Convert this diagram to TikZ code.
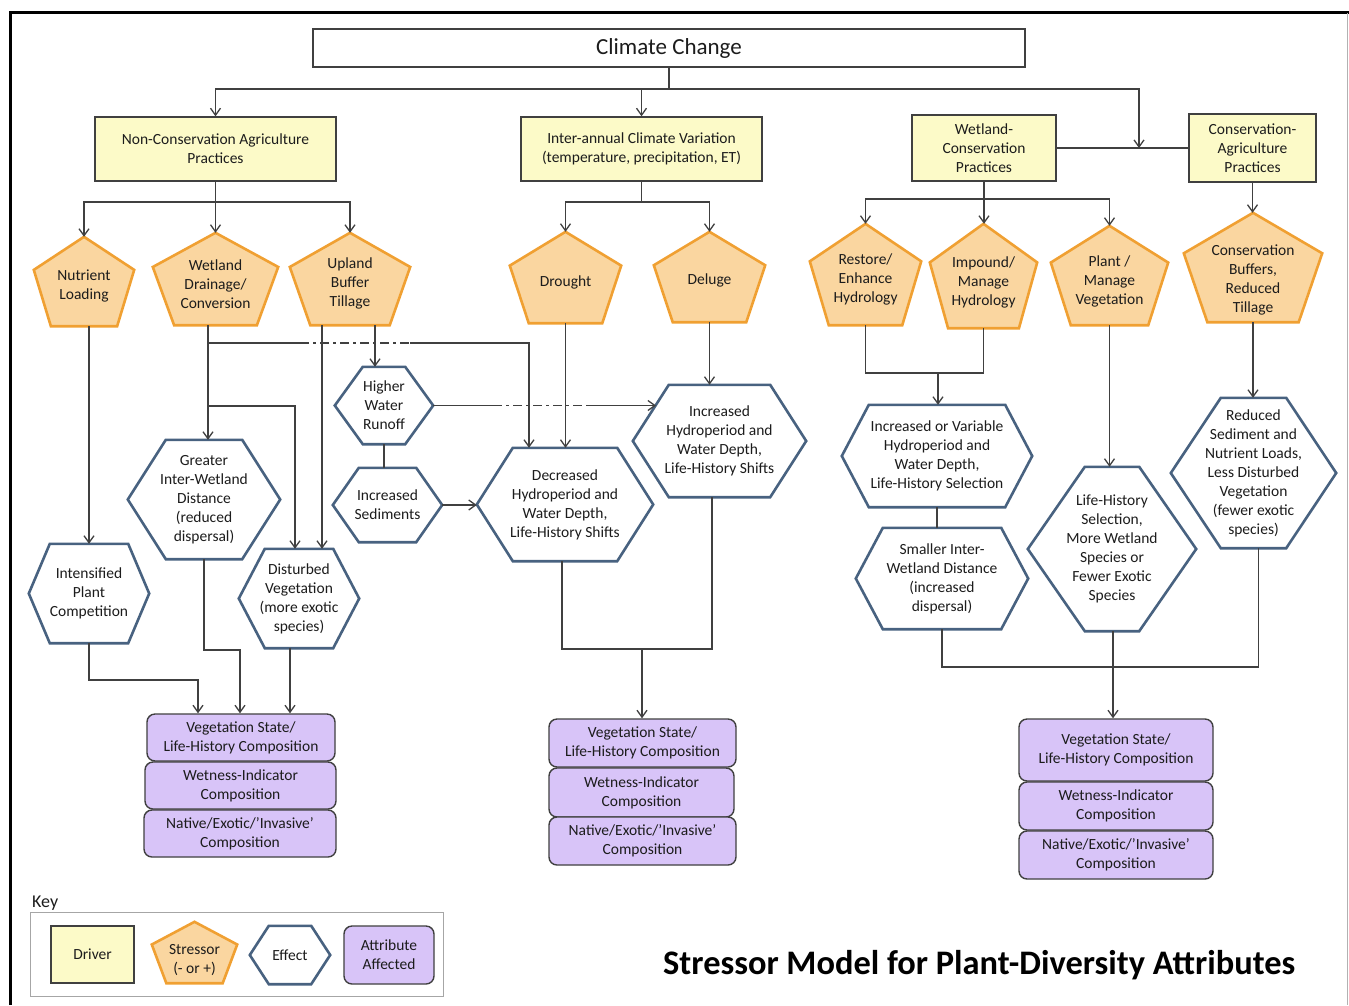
\documentclass[tikz,border=0pt]{standalone}
\usepackage{fontspec}
\setmainfont{Carlito}
\usetikzlibrary{calc,arrows.meta,backgrounds}
\definecolor{drvfill}{RGB}{252,250,200}
\definecolor{edgec}{RGB}{64,64,64}
\definecolor{pfill}{RGB}{250,214,160}
\definecolor{pedge}{RGB}{240,160,50}
\definecolor{hedge}{RGB}{72,98,128}
\definecolor{afill}{RGB}{216,196,248}
\definecolor{txtc}{RGB}{28,28,28}

\newcommand\pentshape[2]{%
  \coordinate (#1-t) at ($(#1.north)+(0,-#2)$);
  \coordinate (#1-b) at ($(#1.south)+(0,-#2)$);
  \begin{pgfonlayer}{background}
  \filldraw[pentst] (#1-t) -- ($(#1.north west)!0.37!(#1.south west)+(0,-#2)$)
     -- ($(#1.south west)!0.17!(#1.south east)+(0,-#2)$)
     -- ($(#1.south east)!0.17!(#1.south west)+(0,-#2)$)
     -- ($(#1.north east)!0.37!(#1.south east)+(0,-#2)$) -- cycle;
  \end{pgfonlayer}}
\newcommand\hexshape[2]{%
  \begin{pgfonlayer}{background}
  \filldraw[hexst] (#1.west) -- ($(#1.north west)+(#2,0)$) -- ($(#1.north east)+(-#2,0)$)
     -- (#1.east) -- ($(#1.south east)+(-#2,0)$) -- ($(#1.south west)+(#2,0)$) -- cycle;
  \end{pgfonlayer}}

\begin{document}
\begin{tikzpicture}[x=1pt,y=-1pt,
  every node/.style={font=\fontsize{15.5}{19}\selectfont, text=txtc, align=center, inner sep=0pt},
  driver/.style 2 args={draw=edgec, line width=1.4pt, fill=drvfill, minimum width=#1pt, minimum height=#2pt},
  stressor/.style 2 args={minimum width=#1pt, minimum height=#2pt},
  effect/.style 2 args={minimum width=#1pt, minimum height=#2pt},
  attr/.style 2 args={draw=edgec, line width=1.4pt, fill=afill, rounded corners=8pt, minimum width=#1pt, minimum height=#2pt},
  pentst/.style={draw=pedge, fill=pfill, line width=2.6pt},
  hexst/.style={draw=hedge, fill=white, line width=2.6pt},
  ln/.style={draw=edgec, line width=1.3pt},
  dd/.style={ln, dash pattern=on 9pt off 4pt on 3pt off 4pt},
  arr/.style={ln, -{Straight Barb[length=7pt,width=10pt]}}]

\useasboundingbox (0,0) rectangle (1349,1005);
\begin{pgfonlayer}{background}
\fill[white] (0,0) rectangle (1349,1005);
\end{pgfonlayer}

% frame
\draw[line width=3pt, black] (10,1005) -- (10,12) -- (1349,12);
\draw[gray!60, line width=1pt] (1347,13) -- (1347,1005);

% drivers
\node[driver={712}{38}, fill=white, font=\fontsize{23}{28}\selectfont] (cc) at (669,48) {Climate Change};
\node[driver={241}{64}] (nca) at (215.5,149) {Non-Conservation Agriculture\\Practices};
\node[driver={241}{64}] (iac) at (641.5,149) {Inter-annual Climate Variation\\(temperature, precipitation, ET)};
\node[driver={144}{66}] (wcp) at (984,148) {Wetland-\\Conservation\\Practices};
\node[driver={127}{68}] (cap) at (1252.5,148) {Conservation-\\Agriculture\\Practices};

% stressors
\node[stressor={100}{89}] (nl) at (84,286) {Nutrient\\Loading};
\node[stressor={125}{92}] (wd) at (215.5,284) {Wetland\\Drainage/\\Conversion};
\node[stressor={120}{92}] (ub) at (350,283) {Upland\\Buffer\\Tillage};
\node[stressor={111}{91}] (dr) at (565.5,282) {Drought};
\node[stressor={111}{90}] (de) at (709.5,280) {Deluge};
\node[stressor={111}{101}] (re) at (865.5,279) {Restore/\\Enhance\\Hydrology};
\node[stressor={107}{104}] (im) at (983.5,282) {Impound/\\Manage\\Hydrology};
\node[stressor={117}{99}] (pm) at (1109.5,281) {Plant /\\Manage\\Vegetation};
\node[stressor={138}{109}] (cb) at (1253,280) {Conservation\\Buffers,\\Reduced\\Tillage};
\pentshape{nl}{4.5}
\pentshape{wd}{5}
\pentshape{ub}{4}
\pentshape{dr}{4.5}
\pentshape{de}{3}
\pentshape{re}{4.5}
\pentshape{im}{6}
\pentshape{pm}{5.5}
\pentshape{cb}{12.5}

% effects
\node[effect={120}{99}] (ip) at (89,593.5) {Intensified\\Plant\\Competition};
\node[effect={152}{119}] (gi) at (204,499.5) {Greater\\Inter-Wetland\\Distance\\(reduced\\dispersal)};
\node[effect={120}{99}] (dv) at (299,598.5) {Disturbed\\Vegetation\\(more exotic\\species)};
\node[effect={98}{77}] (hw) at (384,405.5) {Higher\\Water\\Runoff};
\node[effect={109}{74}] (is) at (387.5,505) {Increased\\Sediments};
\node[effect={176}{113}] (dh) at (565,504.5) {Decreased\\Hydroperiod and\\Water Depth,\\Life-History Shifts};
\node[effect={173}{112}] (ih) at (719.5,441) {Increased\\Hydroperiod and\\Water Depth,\\Life-History Shifts};
\node[effect={190}{102}] (iv) at (937,456) {Increased or Variable\\Hydroperiod and\\Water Depth,\\Life-History Selection};
\node[effect={172}{101}] (si) at (942,578.5) {Smaller Inter-\\Wetland Distance\\(increased\\dispersal)};
\node[effect={168}{164}] (lh) at (1112,549) {Life-History\\Selection,\\More Wetland\\Species or\\Fewer Exotic\\Species};
\node[effect={165}{150}] (rs) at (1253.5,473) {Reduced\\Sediment and\\Nutrient Loads,\\Less Disturbed\\Vegetation\\(fewer exotic\\species)};
\hexshape{ip}{21}
\hexshape{gi}{38}
\hexshape{dv}{26}
\hexshape{hw}{28}
\hexshape{is}{26}
\hexshape{dh}{36}
\hexshape{ih}{36}
\hexshape{iv}{27}
\hexshape{si}{27}
\hexshape{lh}{57}
\hexshape{rs}{50}

% attributes
\node[attr={188}{47}] (a1) at (241,737.5) {Vegetation State/\\Life-History Composition};
\node[attr={191}{47}] (a2) at (240.5,785.5) {Wetness-Indicator\\Composition};
\node[attr={192}{47}] (a3) at (240,833.5) {Native/Exotic/’Invasive’\\Composition};
\node[attr={187}{48}] (b1) at (642.5,743) {Vegetation State/\\Life-History Composition};
\node[attr={185}{49}] (b2) at (641.5,792.5) {Wetness-Indicator\\Composition};
\node[attr={187}{48}] (b3) at (642.5,841) {Native/Exotic/’Invasive’\\Composition};
\node[attr={194}{62}] (c1) at (1116,750) {Vegetation State/\\Life-History Composition};
\node[attr={194}{48}] (c2) at (1116,806) {Wetness-Indicator\\Composition};
\node[attr={194}{48}] (c3) at (1116,855) {Native/Exotic/’Invasive’\\Composition};

% top connectors
\coordinate (j0) at (669,89);
\coordinate (jc) at (1139,148);
\draw[ln] (cc.south) -- (j0);
\draw[arr] (j0) -| (nca.north);
\draw[arr] (j0) -| (iac.north);
\draw[ln] (wcp.east) -- (cap.west);
\draw[arr] (j0) -| (jc);

\coordinate (j1) at (215.5,202);
\draw[ln] (nca.south) -- (j1);
\draw[arr] (j1) -| (nl-t);
\draw[arr] (j1) -- (wd-t);
\draw[arr] (j1) -| (ub-t);

\coordinate (j2) at (641.5,202);
\draw[ln] (iac.south) -- (j2);
\draw[arr] (j2) -| (dr-t);
\draw[arr] (j2) -| (de-t);

\coordinate (j3) at (984,199);
\draw[ln] (wcp.south) -- (j3);
\draw[arr] (j3) -| (re-t);
\draw[arr] (j3) -- (j3 |- im-t);
\draw[arr] (j3) -| (pm-t);
\draw[arr] (cap.south) -- (cap.south |- cb-t);

% left group
\draw[arr] (ip.north |- nl-b) -- (ip.north);
\coordinate (w1) at (208,343);
\coordinate (w2) at (208,406);
\coordinate (d1) at (300,343);
\coordinate (d2) at (410,343);
\coordinate (w3) at (529,343);
\coordinate (w4) at (295,406);
\draw[ln] (w1 |- wd-b) -- (w1);
\draw[arr] (w1) -- (w1 |- gi.north);
\draw[ln] (w1) -- (d1);
\draw[dd] (d1) -- (d2);
\draw[arr] (d2) -- (w3) -- (w3 |- dh.north);
\draw[arr] (w2) -- (w4) -- (w4 |- dv.north);
\coordinate (u1) at ($(ub-b)+(-28,0)$);
\coordinate (u2) at ($(ub-b)+(25,0)$);
\draw[arr] (u1) -- (u1 |- dv.north);
\draw[arr] (u2) -- (u2 |- hw.north);
\draw[ln] (hw.south) -- (hw.south |- is.north);
\draw[arr] (is.east) -- (is.east -| dh.west);
\coordinate (h1) at (493,405.5);
\coordinate (h2) at (587,405.5);
\coordinate (ihin) at (656,405.5);
\draw[ln] (hw.east) -- (h1);
\draw[dd] (h1) -- (h2);
\draw[arr] (h2) -- (ihin);

% middle group
\draw[arr] (dr-b) -- (dr-b |- dh.north);
\draw[arr] (de-b) -- (de-b |- ih.north);
\coordinate (m1) at (642,649);
\draw[ln] ($(dh.south)+(-3,0)$) |- (m1);
\draw[ln] ($(ih.south)+(-7.5,0)$) |- (m1);
\draw[arr] (m1) -- (m1 |- b1.north);

% right group
\coordinate (r1) at (938,373);
\draw[ln] (re-b) |- (r1);
\draw[ln] (im-b) |- (r1);
\draw[arr] (r1) -- (r1 |- iv.north);
\draw[ln] (iv.south) -- (iv.south |- si.north);
\draw[arr] (pm-b) -- (pm-b |- lh.north);
\draw[arr] (cb-b) -- (cb-b |- rs.north);
\coordinate (k1) at (1113,667);
\draw[ln] (si.south) |- (k1);
\draw[ln] ($(rs.south)+(5,0)$) |- (k1);
\draw[arr] (k1 |- lh.south) -- (k1 |- c1.north);

% left attributes
\coordinate (l1) at (198,680);
\coordinate (l2) at (240,650);
\coordinate (l3) at ($(dv.south)+(-9,0)$);
\draw[arr] (ip.south) |- (l1) -- (l1 |- a1.north);
\draw[arr] (gi.south) |- (l2) -- (l2 |- a1.north);
\draw[arr] (l3) -- (l3 |- a1.north);

% key
\node[font=\fontsize{18}{22}\selectfont, anchor=base west] (keylbl) at (32,907) {Key};
\node[draw=gray!70, line width=1pt, minimum width=413pt, minimum height=84pt] (keybox) at (236.5,954) {};
\node[driver={83}{57}] (kd) at (92.5,954.5) {Driver};
\node[stressor={85}{61}] (ks) at (194.5,960.5) {Stressor\\(- or +)};
\pentshape{ks}{8}
\node[effect={80}{58}] (ke) at (290,955) {Effect};
\hexshape{ke}{19}
\node[attr={90}{58}] (ka) at (389,955) {Attribute\\Affected};

% title
\node[font=\fontsize{34.4}{41}\selectfont\bfseries, text=black, anchor=base west] (title) at (663,974) {Stressor Model for Plant-Diversity Attributes};
\end{tikzpicture}
\end{document}
